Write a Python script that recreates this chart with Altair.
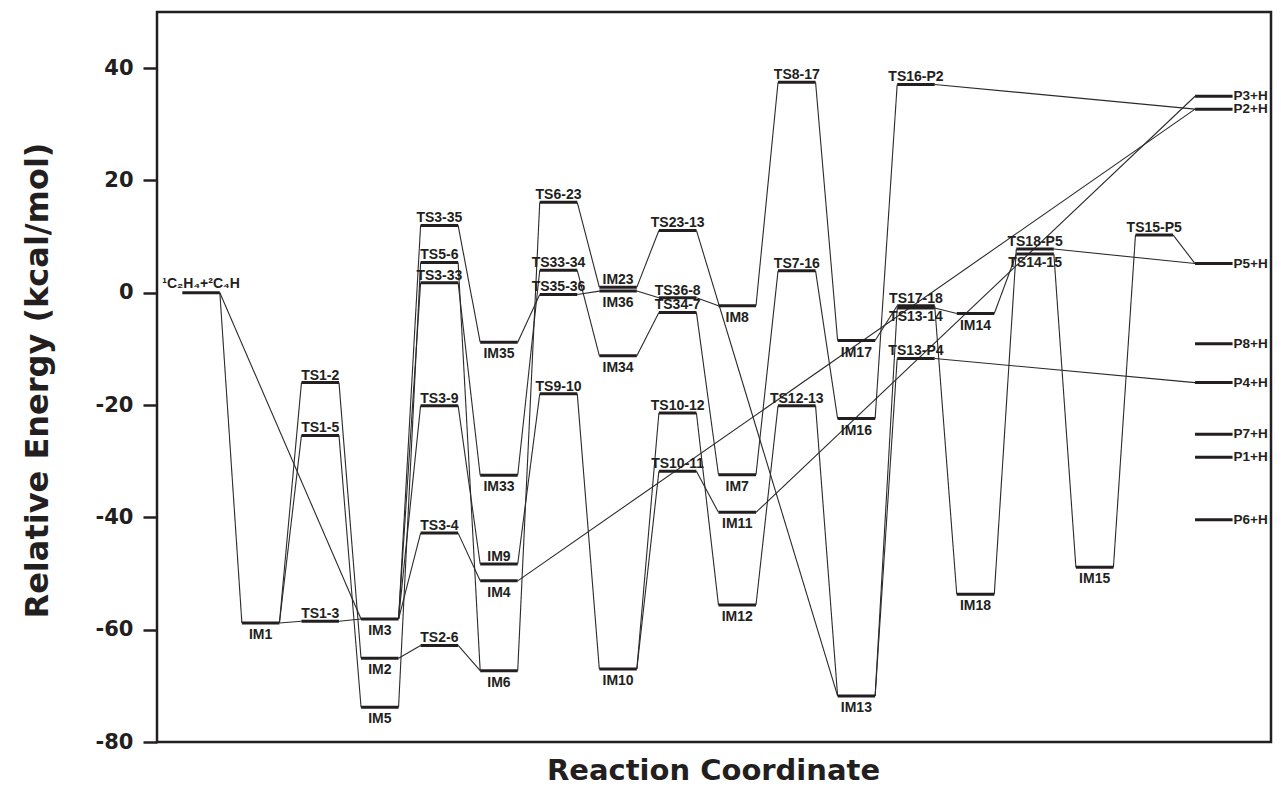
import altair as alt
import pandas as pd

# ---- data: energy levels (name, stage along reaction coordinate, relative energy kcal/mol)
level_names = ["R", "IM1", "TS1-2", "TS1-5", "TS1-3", "IM2", "IM3", "IM5",
               "TS3-35", "TS5-6", "TS3-33", "TS3-9", "TS3-4", "TS2-6",
               "IM35", "IM33", "IM9", "IM4", "IM6",
               "TS6-23", "TS33-34", "TS35-36", "TS9-10",
               "IM23", "IM36", "IM34", "IM10",
               "TS23-13", "TS36-8", "TS34-7", "TS10-12", "TS10-11",
               "IM8", "IM7", "IM11", "IM12",
               "TS8-17", "TS7-16", "TS12-13",
               "IM17", "IM16", "IM13",
               "TS16-P2", "TS17-18", "TS13-14", "TS13-P4",
               "IM14", "IM18",
               "TS18-P5", "TS14-15",
               "IM15",
               "TS15-P5",
               "P3+H", "P2+H", "P5+H", "P8+H", "P4+H", "P7+H", "P1+H", "P6+H"]
level_stages = [0, 1, 2, 2, 2, 3, 3, 3,
                4, 4, 4, 4, 4, 4,
                5, 5, 5, 5, 5,
                6, 6, 6, 6,
                7, 7, 7, 7,
                8, 8, 8, 8, 8,
                9, 9, 9, 9,
                10, 10, 10,
                11, 11, 11,
                12, 12, 12, 12,
                13, 13,
                14, 14,
                15,
                16,
                17, 17, 17, 17, 17, 17, 17, 17]
level_energies = [0.0, -58.8, -16.0, -25.4, -58.5, -65.1, -58.1, -73.8,
                  12.0, 5.4, 1.8, -20.1, -42.8, -62.8,
                  -8.8, -32.5, -48.3, -51.3, -67.3,
                  16.1, 4.0, -0.3, -18.0,
                  1.0, 0.3, -11.2, -67.0,
                  11.1, -0.9, -3.5, -21.4, -31.8,
                  -2.3, -32.4, -39.1, -55.6,
                  37.5, 3.9, -20.1,
                  -8.5, -22.4, -71.8,
                  37.1, -2.3, -2.7, -11.7,
                  -3.7, -53.7,
                  7.8, 6.9,
                  -48.9,
                  10.3,
                  35.0, 32.7, 5.2, -9.1, -16.0, -25.2, -29.3, -40.4]
reactant_label = "\u00b9C\u2082H\u2084+\u00b2C\u2084H"

# ---- data: connections between levels
conn_from = ["R", "R", "IM1", "IM1", "IM1", "TS1-2", "TS1-5", "TS1-3",
             "IM3", "IM3", "IM3", "IM3", "IM5", "IM2",
             "TS3-35", "TS5-6", "TS3-33", "TS3-9", "TS3-4", "TS2-6",
             "IM35", "IM33", "IM9", "IM6", "IM4",
             "TS35-36", "TS33-34", "TS6-23", "TS9-10",
             "IM23", "IM36", "IM34", "IM10", "IM10",
             "TS23-13", "TS36-8", "TS34-7", "TS10-12", "TS10-11",
             "IM8", "IM7", "IM12", "IM11",
             "TS8-17", "TS7-16", "TS12-13",
             "IM17", "IM16", "IM13", "IM13",
             "TS17-18", "TS13-14", "TS16-P2", "TS13-P4",
             "IM18", "IM14", "TS18-P5", "TS14-15", "IM15", "TS15-P5"]
conn_to = ["IM1", "IM3", "TS1-2", "TS1-5", "TS1-3", "IM2", "IM5", "IM3",
           "TS3-35", "TS3-33", "TS3-9", "TS3-4", "TS5-6", "TS2-6",
           "IM35", "IM6", "IM33", "IM9", "IM4", "IM6",
           "TS35-36", "TS33-34", "TS9-10", "TS6-23", "P2+H",
           "IM36", "IM34", "IM23", "IM10",
           "TS23-13", "TS36-8", "TS34-7", "TS10-12", "TS10-11",
           "IM13", "IM8", "IM7", "IM12", "IM11",
           "TS8-17", "TS7-16", "TS12-13", "P3+H",
           "IM17", "IM16", "IM13",
           "TS17-18", "TS16-P2", "TS13-14", "TS13-P4",
           "IM18", "IM14", "P2+H", "P4+H",
           "TS18-P5", "TS14-15", "P5+H", "IM15", "TS15-P5", "P5+H"]

# label placement groups
labels_above_im = ["IM23", "IM9"]
labels_below_ts = ["TS13-14", "TS14-15"]

INK = "#231f20"
HW = 0.315  # half width of a level bar in stage units

stage_of = dict(zip(level_names, level_stages))
energy_of = dict(zip(level_names, level_energies))


def side(n):
    if n == "R":
        return "reactant"
    if n.startswith("P"):
        return "right"
    if n in labels_below_ts:
        return "below_ts"
    if n in labels_above_im:
        return "above"
    if n.startswith("TS"):
        return "above"
    return "below"


levels = pd.DataFrame({
    "name": level_names,
    "label": [reactant_label if n == "R" else n for n in level_names],
    "stage": level_stages,
    "energy": level_energies,
    "side": [side(n) for n in level_names],
})

conns = pd.DataFrame({
    "s1": [stage_of[a] for a in conn_from],
    "e1": [energy_of[a] for a in conn_from],
    "s2": [stage_of[b] for b in conn_to],
    "e2": [energy_of[b] for b in conn_to],
})

xscale = alt.Scale(domain=[-0.74, 17.96], nice=False, zero=False)
yscale = alt.Scale(domain=[-80, 50], nice=False, zero=False)

xaxis = alt.Axis(title="Reaction Coordinate", labels=False, ticks=False, domain=False,
                 grid=False, titleFont="DejaVu Sans", titleFontSize=29,
                 titleFontWeight="bold", titleColor=INK, titleX=556, titleY=37,
                 titleBaseline="alphabetic", titleAlign="center")
yaxis = alt.Axis(title="Relative Energy (kcal/mol)", values=[-80, -60, -40, -20, 0, 20, 40],
                 labelExpr="'' + datum.value", labelFont="DejaVu Sans", labelFontSize=21,
                 labelFontWeight="bold", labelColor=INK, tickSize=14, tickWidth=2.5,
                 tickColor=INK, labelPadding=10, domain=False, grid=False,
                 titleFont="DejaVu Sans", titleFontSize=32, titleFontWeight="bold",
                 titleColor=INK, titleX=-110, titleY=368, titleAngle=270,
                 titleBaseline="alphabetic", titleAlign="center")

lines = alt.Chart(conns).transform_calculate(
    xa=f"datum.s1 + {HW}", xb=f"datum.s2 - {HW}"
).mark_rule(color="#2a2a2a", strokeWidth=1.1).encode(
    x=alt.X("xa:Q", scale=xscale, axis=xaxis),
    x2="xb:Q",
    y=alt.Y("e1:Q", scale=yscale, axis=yaxis),
    y2="e2:Q",
)

bars = alt.Chart(levels).transform_calculate(
    xa=f"datum.stage - {HW}", xb=f"datum.stage + {HW}"
).mark_rule(color=INK, strokeWidth=3, strokeCap="butt").encode(
    x=alt.X("xa:Q", scale=xscale, axis=xaxis),
    x2="xb:Q",
    y=alt.Y("energy:Q", scale=yscale, axis=yaxis),
)


def text_layer(sd, **kw):
    base = alt.Chart(levels).transform_filter(f"datum.side == '{sd}'")
    if sd == "right":
        base = base.transform_calculate(xt=f"datum.stage + {HW}")
        xf = "xt:Q"
    else:
        xf = "stage:Q"
    return base.mark_text(font="Liberation Sans", fontWeight="bold", color=INK, **kw).encode(
        x=alt.X(xf, scale=xscale, axis=xaxis),
        y=alt.Y("energy:Q", scale=yscale, axis=yaxis),
        text="label:N",
    )


t_above = text_layer("above", fontSize=14, dy=-3, baseline="alphabetic", align="center")
t_below = text_layer("below", fontSize=14, dy=16, baseline="alphabetic", align="center")
t_below_ts = text_layer("below_ts", fontSize=14, dy=13, baseline="alphabetic", align="center")
t_react = text_layer("reactant", fontSize=14, dy=-5, baseline="alphabetic", align="center")
t_right = text_layer("right", fontSize=13.5, dx=1, baseline="middle", align="left")

chart = alt.layer(lines, bars, t_above, t_below, t_below_ts, t_react, t_right).properties(
    width=1114, height=730,
    autosize=alt.AutoSizeParams(type="none"),
    padding={"left": 149, "top": 4, "right": 2, "bottom": 45},
    background="white",
).configure_view(stroke=INK, strokeWidth=2.5)

chart.save("out.html", embed_options={"renderer": "svg", "actions": False})
